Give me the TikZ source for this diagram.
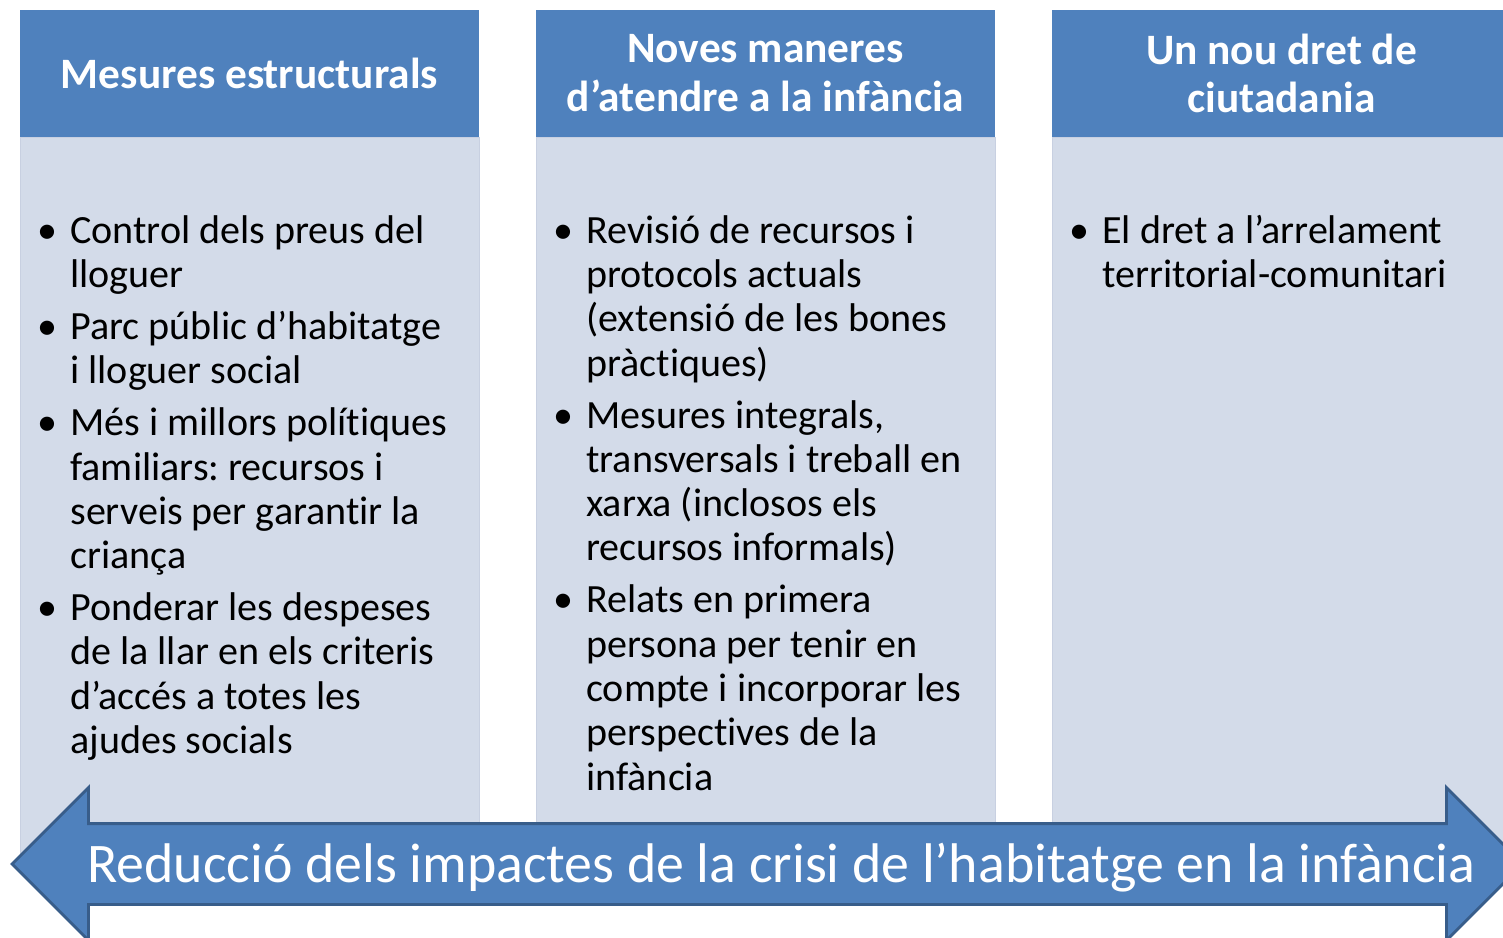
\documentclass[tikz,border=0pt]{standalone}
\usepackage{fontspec}
\setmainfont{Carlito}[Ligatures=NoCommon]
\frenchspacing
\usetikzlibrary{positioning,shapes.arrows}
\definecolor{hdrblue}{HTML}{4F81BD}
\definecolor{panelblue}{HTML}{D3DBE9}
\definecolor{paneledge}{HTML}{C8D0E1}
\definecolor{arrowedge}{HTML}{385D8A}
\tikzset{
  head/.style={fill=hdrblue, text=white, minimum width=9.18cm, minimum height=2.54cm,
    inner sep=0pt, align=center, font=\fontsize{24.7}{27.8}\selectfont\bfseries},
  panel/.style={fill=panelblue, draw=paneledge, line width=0.5pt, minimum width=9.18cm,
    minimum height=14.66cm, inner sep=0pt},
  itembox/.style={anchor=north west, inner sep=0pt, align=left,
    font=\fontsize{22.8}{25.2}\selectfont},
  band/.style={double arrow, double arrow tip angle=90, double arrow head extend=0.72cm,
    fill=hdrblue, draw=arrowedge, line width=1.6pt, minimum height=30.22cm,
    inner xsep=0pt, inner ysep=0pt, text height=1.14cm, text depth=0.42cm,
    text=white, font=\fontsize{31.8}{36}\selectfont}
}
\newcommand{\bul}{\strut\llap{\textbullet\hspace{0.26cm}}}
\begin{document}
\begin{tikzpicture}[x=0.02cm, y=-0.02cm]
  \useasboundingbox (0,0) rectangle (1503,937);
  \clip (0,0) rectangle (1503,937);
  % column headers
  \node (h1) [head] at (249.5,73.5) {Mesures estructurals};
  \node (h2) [head] at (765.5,73.5) {Noves maneres\\d’atendre a la infància};
  \node (h3) [head] at (1281.5,73.5) {Un nou dret de\\ciutadania};
  % column bodies
  \node (p1) [panel, below=0pt of h1] {};
  \node (p2) [panel, below=0pt of h2] {};
  \node (p3) [panel, below=0pt of h3] {};
  % first column
  \node (a1) [itembox] at (70,212) {\bul Control dels preus del\\lloguer\strut};
  \node (a2) [itembox, below right=0.14cm and 0cm of a1.south west] {\bul Parc públic d’habitatge\\i lloguer social\strut};
  \node (a3) [itembox, below right=0.14cm and 0cm of a2.south west] {\bul Més i millors polítiques\\familiars: recursos i\\serveis per garantir la\\criança\strut};
  \node (a4) [itembox, below right=0.14cm and 0cm of a3.south west] {\bul Ponderar les despeses\\de la llar en els criteris\\d’accés a totes les\\ajudes socials\strut};
  % second column
  \node (b1) [itembox] at (586,212) {\bul Revisió de recursos i\\protocols actuals\\(extensió de les bones\\pràctiques)\strut};
  \node (b2) [itembox, below right=0.14cm and 0cm of b1.south west] {\bul Mesures integrals,\\transversals i treball en\\xarxa (inclosos els\\recursos informals)\strut};
  \node (b3) [itembox, below right=0.14cm and 0cm of b2.south west] {\bul Relats en primera\\persona per tenir en\\compte i incorporar les\\perspectives de la\\infància\strut};
  % third column
  \node (c1) [itembox] at (1102,212) {\bul El dret a l’arrelament\\territorial-comunitari\strut};
  % bottom arrow
  \node (goal) [band] at (767.5,864) {\hspace*{0.56cm}Reducció dels impactes de la crisi de l’habitatge en la infància};
\end{tikzpicture}
\end{document}
